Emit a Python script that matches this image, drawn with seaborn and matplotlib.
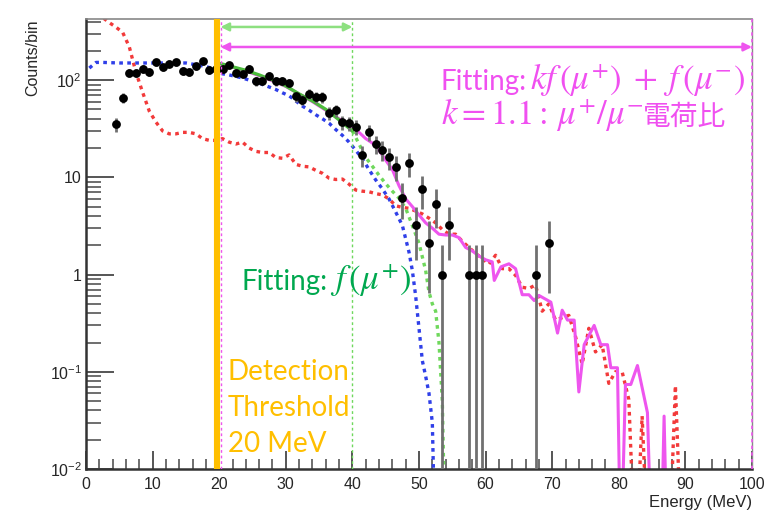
import numpy as np
import pandas as pd
import matplotlib
matplotlib.use("Agg")
import matplotlib.pyplot as plt
import seaborn as sns
from matplotlib.ticker import FixedLocator, LogLocator, MultipleLocator, NullFormatter

# ---------------- data ----------------
data_e = [4.5, 5.5, 6.5, 7.5, 8.5, 9.5, 10.5, 11.5, 12.5, 13.5, 14.5, 15.5, 16.5, 17.5,
          18.5, 19.5, 20.5, 21.5, 22.5, 23.5, 24.5, 25.5, 26.5, 27.5, 28.5, 29.5, 30.5,
          31.5, 32.5, 33.5, 34.5, 35.5, 36.5, 37.5, 38.5, 39.5, 40.5, 41.5, 42.5, 43.5,
          44.5, 45.5, 46.5, 47.5, 48.5, 49.5, 50.5, 51.5, 52.5, 53.5, 54.5, 57.5, 58.5,
          59.5, 67.5, 69.5]
data_n = [35, 66, 118, 118, 131, 121, 153, 135, 148, 152, 125, 121, 138, 157,
          128, 130, 131, 142, 118, 115, 131, 97, 99, 111, 97, 98, 94,
          68, 63, 72, 67, 67, 46, 49, 37, 36, 33, 17, 29, 22,
          19, 16, 12.8, 6.2, 13.9, 3.2, 7.5, 2.1, 5.3, 1, 3.2, 1, 1,
          1, 1, 2.1]

# red dotted: f(mu-) simulation
red_e = [0.5, 1.5, 2.5, 3.5, 4.5, 5.5, 6.5, 7.5, 8.5, 9.5, 10.5, 11.5, 12.5, 13.5, 14.5,
         15.5, 16.5, 17.5, 18.5, 19.5, 20.5, 21.5, 22.5, 23.5, 24.5, 25.5, 26.5, 27.5,
         28.5, 29.5, 30.5, 31.5, 32.5, 33.5, 34.5, 35.5, 36.5, 37.5, 38.5, 39.5, 40.5,
         41.5, 42.5, 43.5, 44.5, 45.5, 46.5, 47.5, 48.5, 49.5, 50.5, 51.5, 52.5, 53.5,
         54.5, 55.5, 56.5, 57.5, 58.5, 59.5, 60.5, 61.5, 62.5, 63.5, 64.5, 65.5, 66.5,
         67.5, 68.5, 69.5, 70.5, 71.5, 72.5, 73.5, 74.5, 75.5, 76.5, 77.5, 78.5, 79.5,
         80.5, 81.5, 82.5, 83.5, 84.5, 85.5, 86.5, 87.5, 88.5, 89.5]
red_n = [700, 520, 440, 390, 350, 310, 220, 120, 75, 48, 37, 30, 28, 28, 29,
         29, 28, 25, 24, 24, 25, 23, 22, 23, 20, 18.5, 18, 18,
         16, 15.7, 17, 13.6, 13, 12.8, 11.8, 11, 9.8, 9.5, 9.6, 8.5, 7.4,
         7.2, 7.1, 6.8, 6.6, 6.0, 5.1, 4.9, 4.8, 4.5, 4.2, 3.8, 3.4, 2.9,
         2.6, 2.6, 2.2, 1.9, 1.65, 1.46, 1.28, 1.58, 1.15, 1.15, 0.98, 0.74, 0.72,
         0.78, 0.42, 0.50, 0.34, 0.36, 0.38, 0.23, 0.12, 0.28, 0.16, 0.19, 0.076, 0.10,
         0.10, 0.052, 0.001, 0.035, 0.001, 0.001, 0.001, 0.001, 0.072, 0.001]

# blue dotted: f(mu+) simulation
blue_e = [0.5, 1.5, 2.5, 5.0, 10.0, 15.0, 16.5, 17.5, 18.5, 19.5, 20.5, 21.5, 22.5, 23.5,
          24.5, 25.5, 26.5, 27.5, 28.5, 29.5, 30.5, 31.5, 32.5, 33.5, 34.5, 35.5, 36.5,
          37.5, 38.5, 39.5, 40.5, 41.5, 42.5, 43.5, 44.5, 45.5, 46.5, 47.5, 48.5, 49.0,
          49.5, 50.0, 50.5, 51.0, 51.5, 52.0, 52.5]
blue_n = [133, 152, 152, 150, 150, 150, 144, 140, 135, 125, 116, 113, 109, 105,
          100, 96, 90, 85, 80, 74, 69, 61, 54, 49, 44, 40, 36,
          31, 27, 23, 19, 15.5, 12, 9.4, 7.6, 6.0, 4.4, 3.2, 1.7, 1.1,
          0.6, 0.28, 0.13, 0.09, 0.06, 0.03, 0.001]

# green: fit f(mu+) (solid inside 20-40 MeV, dotted beyond)
green_fit_e = [20.2, 22, 24, 26, 28, 30, 32, 34, 36, 38, 40]
green_fit_n = [148, 137, 126, 113, 100, 87, 72, 61, 50, 39, 30]
green_ext_e = [40, 41, 42, 43, 44, 45, 46, 47, 48, 49, 50, 51, 51.5, 52, 52.5, 53, 53.5, 54]
green_ext_n = [30, 22, 16, 13, 10.5, 8.6, 7.2, 6.1, 4.8, 3.2, 2.1, 1.1, 0.66, 0.5, 0.42,
               0.2, 0.05, 0.001]

# magenta solid: k f(mu+) + f(mu-)
mag_e = [20.2, 22, 24, 26, 28, 30, 32, 34, 36, 38, 40, 41, 42, 43, 44, 45, 46, 47, 48,
         49, 50, 51, 52, 53, 54, 55, 56, 57, 58, 59, 60, 61, 61.3, 62.3, 63.5, 64.5,
         65.5, 66.5, 67.3, 68, 69.8, 70.8, 71.5, 72.3, 73.3, 74, 74.8, 76.3, 77.3, 78.3,
         78.8, 79.8, 80.3, 81, 81.8, 82.8, 84.3, 85, 86.3, 86.8, 87.3]
mag_n = [146, 136, 124, 111, 98, 86, 72, 60, 49, 40, 33, 29, 25, 22.5, 19, 15, 12,
         8.2, 6, 5, 4.1, 3.4, 3, 2.6, 2.55, 2.55, 2.4, 1.9, 1.75, 1.55, 1.42, 1.35,
         0.87, 1.2, 1.29, 1.15, 0.62, 0.62, 0.54, 0.61, 0.52, 0.25, 0.43, 0.34, 0.34,
         0.062, 0.19, 0.30, 0.19, 0.19, 0.11, 0.11, 0.001, 0.074, 0.074, 0.116, 0.038,
         0.001, 0.001, 0.035, 0.001]

threshold_e = 19.6
fit_lo_e, fit_hi_e, full_hi_e = 20.2, 40.0, 100.0

x_ticks = [0, 10, 20, 30, 40, 50, 60, 70, 80, 90, 100]
y_ticks = [0.01, 0.1, 1, 10, 100]
y_tick_labels = [r"$10^{-2}$", r"$10^{-1}$", "1", "10", r"$10^{2}$"]

# ---------------- style ----------------
sns.set_theme(style="white")
plt.rcParams["font.family"] = ["Liberation Sans", "DejaVu Sans"]
plt.rcParams["mathtext.fontset"] = "custom"
plt.rcParams["mathtext.rm"] = "Liberation Sans"
plt.rcParams["mathtext.it"] = "Liberation Sans:italic"

RED = "#f23a3a"
BLUE = "#2f3fe8"
LGREEN = "#6fd85c"
GREEN_SOLID = "#4cbb3c"
MAGENTA = "#ee55ee"
ORANGE = "#ffbf00"
TXT_GREEN = "#00a84f"
TXT_MAG = "#f050f0"
LATO = ["Lato", "DejaVu Sans"]

fig = plt.figure(figsize=(7.83, 5.19), dpi=100)
ax = fig.add_axes([86 / 783, 50 / 519, 666 / 783, 450 / 519])

dot = (0, (1.1, 1.3))

sns.lineplot(x=red_e, y=red_n, ax=ax, color=RED, lw=2.4, linestyle=dot,
             estimator=None, sort=False, legend=False)
sns.lineplot(x=blue_e, y=blue_n, ax=ax, color=BLUE, lw=2.4, linestyle=dot,
             estimator=None, sort=False, legend=False)
sns.lineplot(x=green_ext_e, y=green_ext_n, ax=ax, color=LGREEN, lw=2.4, linestyle=dot,
             estimator=None, sort=False, legend=False)
sns.lineplot(x=mag_e, y=mag_n, ax=ax, color=MAGENTA, lw=2.2,
             estimator=None, sort=False, legend=False)
sns.lineplot(x=green_fit_e, y=green_fit_n, ax=ax, color=GREEN_SOLID, lw=2.4,
             estimator=None, sort=False, legend=False)

# data points with Poisson error bars
dn = np.array(data_n, dtype=float)
err = np.sqrt(dn)
low = dn - np.maximum(dn - err, 1e-4)
ax.errorbar(data_e, dn, yerr=[low, err], fmt="none", ecolor="#707070",
            elinewidth=2.0, capsize=0, zorder=4)
sns.scatterplot(x=data_e, y=data_n, ax=ax, color="black", s=40, edgecolor="black",
                linewidth=0, zorder=5, legend=False)

ax.set_yscale("log")
ax.set_xlim(0, 100)
ax.set_ylim(0.01, 425)

# vertical markers
ax.axvline(threshold_e, color=ORANGE, lw=4.4, zorder=6)
ax.axvline(fit_lo_e, color=MAGENTA, lw=1.0, linestyle=(0, (2, 2)), zorder=6)
ax.axvline(fit_hi_e, color=LGREEN, lw=1.0, linestyle=(0, (2, 2)), zorder=3)
ax.axvline(full_hi_e, color=MAGENTA, lw=1.2, linestyle=(0, (2, 2)), zorder=7, clip_on=False)

# range arrows
ax.annotate("", xy=(fit_lo_e, 352), xytext=(fit_hi_e, 352),
            arrowprops=dict(arrowstyle="<|-|>", color="#8de080", lw=1.8,
                            mutation_scale=12, shrinkA=0, shrinkB=0))
ax.annotate("", xy=(fit_lo_e, 219), xytext=(full_hi_e, 219),
            arrowprops=dict(arrowstyle="<|-|>", color=MAGENTA, lw=1.8,
                            mutation_scale=12, shrinkA=0, shrinkB=0))

# axes look (ROOT-like)
ax.xaxis.set_major_locator(FixedLocator(x_ticks))
ax.xaxis.set_minor_locator(MultipleLocator(2))
ax.set_xticklabels([str(t) for t in x_ticks])
ax.yaxis.set_major_locator(FixedLocator(y_ticks))
ax.set_yticklabels(y_tick_labels)
ax.yaxis.set_minor_locator(LogLocator(base=10, subs=np.arange(2, 10)))
ax.yaxis.set_minor_formatter(NullFormatter())
ax.tick_params(axis="x", which="major", direction="in", length=13, width=1.4,
               color="#555555", labelsize=11.5, pad=6, bottom=True, top=False)
ax.tick_params(axis="x", which="minor", direction="in", length=7, width=1.2,
               color="#555555", bottom=True, top=False)
ax.tick_params(axis="y", which="major", direction="in", length=20, width=1.4,
               color="#555555", labelsize=11.5, pad=3, left=True, right=False)
ax.tick_params(axis="y", which="minor", direction="in", length=11, width=1.2,
               color="#555555", left=True, right=False)
for s in ["left", "bottom"]:
    ax.spines[s].set_color("#333333")
    ax.spines[s].set_linewidth(1.8)
ax.spines["top"].set_color("#888888")
ax.spines["top"].set_linewidth(1.2)
ax.spines["right"].set_color("#888888")
ax.spines["right"].set_linewidth(1.0)

ax.set_xlabel("Energy (MeV)", fontsize=12, loc="right", labelpad=2)
ax.set_ylabel("Counts/bin", fontsize=11.5, loc="top")
ax.yaxis.set_label_coords(-0.069, 1.0)

# annotations (placed by baseline)
ax.text(53.3, 79, "Fitting:", color=TXT_MAG, fontsize=20, family=LATO, va="baseline")
ax.text(66.6, 79, r"$kf\,(\mu^{+})\;+\;f\,(\mu^{-})$", color=TXT_MAG, fontsize=25,
        math_fontfamily="stix", va="baseline")
ax.text(53.3, 34.4, r"$k=1.1{:}\,\mu^{+}/\mu^{-}$", color=TXT_MAG, fontsize=25,
        math_fontfamily="stix", va="baseline")
ax.text(83.6, 34.4, "電荷比", color=TXT_MAG, fontsize=20,
        family=["Noto Sans CJK JP", "DejaVu Sans"], va="baseline")
ax.text(23.4, 0.69, "Fitting:", color=TXT_GREEN, fontsize=20, family=LATO, va="baseline")
ax.text(36.6, 0.69, r"$f\,(\mu^{+})$", color=TXT_GREEN, fontsize=25,
        math_fontfamily="stix", va="baseline")
for label, yb in zip(["Detection", "Threshold", "20 MeV"], [0.082, 0.0349, 0.0149]):
    ax.text(21.3, yb, label, color=ORANGE, fontsize=20, family=LATO, va="baseline")

fig.savefig("out.png", dpi=100)
